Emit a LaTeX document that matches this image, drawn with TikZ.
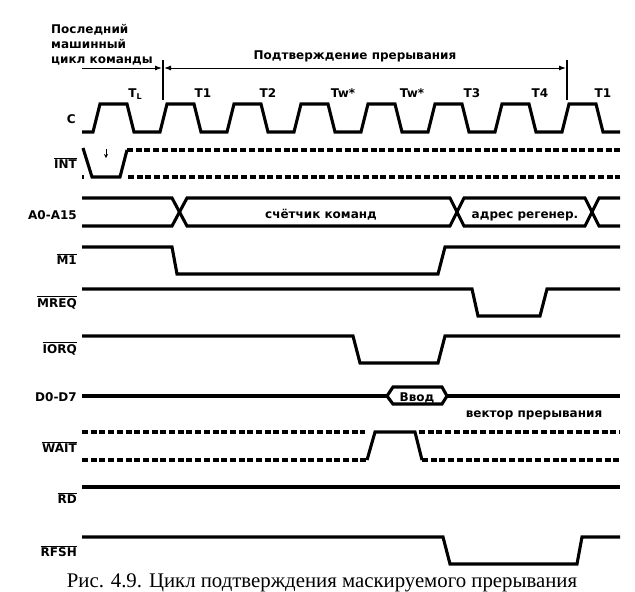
\documentclass[tikz,border=0pt]{standalone}
\usepackage{fontspec}
\usetikzlibrary{arrows.meta}
\newfontfamily\lblfont{DejaVu Sans}
\newfontfamily\capfont{Liberation Serif}
\newcommand\ovl[1]{\ensuremath{\overline{\hbox{#1}}}}
\begin{document}
\begin{tikzpicture}[x=1pt,y=-1pt,
  sig/.style={line width=3.1pt},
  dsig/.style={line width=3.1pt,dash pattern=on 6pt off 2.7pt},
  lbl/.style={font=\lblfont\bfseries\fontsize{12}{14}\selectfont,inner sep=0pt},
  slbl/.style={lbl,anchor=base east},
  tlbl/.style={lbl,anchor=base},
  marker/.style={line width=1.8pt},
  span/.style={line width=1pt}]
\useasboundingbox (0,0) rectangle (635,592);
\fill[white] (0,0) rectangle (635,592);

% header texts
\node[lbl,anchor=base west] (h1) at (51,33) {Последний};
\node[lbl,anchor=base west] (h2) at (51,48) {машинный};
\node[lbl,anchor=base west] (h3) at (51,63) {цикл команды};
\node[tlbl] (ack) at (355,59) {Подтверждение прерывания};

% markers and spans
\coordinate (sL) at (82,68);
\coordinate (mA) at (163,68);
\coordinate (mB) at (567,68);
\draw[marker] (163,60) -- (163,100);
\draw[marker] (567,60) -- (567,100);
\draw[span,-{Latex[length=7pt,width=5pt]}] (sL) -- ([xshift=-1pt]mA);
\draw[span,{Latex[length=7pt,width=5pt]}-{Latex[length=7pt,width=5pt]}] ([xshift=1pt]mA) -- ([xshift=-1pt]mB);

% T labels
\node[tlbl] (tl) at (135,97) {T\raisebox{-2pt}{\fontsize{8}{9}\selectfont L}};
\node[tlbl] (t1) at (203,97) {T1};
\node[tlbl] (t2) at (268,97) {T2};
\node[tlbl] (tw1) at (343,97) {Tw*};
\node[tlbl] (tw2) at (412,97) {Tw*};
\node[tlbl] (t3) at (472,97) {T3};
\node[tlbl] (t4) at (540,97) {T4};
\node[tlbl] (t1b) at (603,97) {T1};

% signal labels
\node[slbl] (lC) at (76,123) {C};
\node[slbl] (lINT) at (77,168) {\ovl{INT}};
\node[slbl] (lA) at (77,219) {A0-A15};
\node[slbl] (lM1) at (77,264) {\ovl{M1}};
\node[slbl] (lMREQ) at (77,307) {\ovl{MREQ}};
\node[slbl] (lIORQ) at (77,353) {\ovl{IORQ}};
\node[slbl] (lD) at (77,401) {D0-D7};
\node[slbl] (lWAIT) at (77,452) {\ovl{WAIT}};
\node[slbl] (lRD) at (77,503) {\ovl{RD}};
\node[slbl] (lRFSH) at (77,556) {\ovl{RFSH}};

% C clock
\draw[sig] (82,132) foreach \k in {0,...,7} {
  -- ({93+67*\k},132) -- ({100+67*\k},104) -- ({127+67*\k},104) -- ({134+67*\k},132) }
  -- (620,132);

% INT
\draw[sig] (83,148) -- (92,177) -- (120,177) -- (127,150);
\draw[dsig] (127,150) -- (620,150);
\draw[dsig] (128,177) -- (620,177);
\draw[sig] (82,177) -- (84,177);
\draw[line width=0.9pt,-{Stealth[length=4pt,width=4pt]}] (106,149) -- (106,158);

% A0-A15
\draw[sig] (82,198) -- (172,198) -- (187,226) -- (450,226) -- (464,198) -- (585,198) -- (599,226) -- (620,226);
\draw[sig] (82,226) -- (172,226) -- (187,198) -- (450,198) -- (464,226) -- (585,226) -- (599,198) -- (620,198);
\node[tlbl] (pc) at (321,218) {счётчик команд};
\node[tlbl] (ra) at (525,218) {адрес регенер.};

% M1
\draw[sig] (82,247) -- (172,247) -- (177,274) -- (438,274) -- (445,247) -- (620,247);
% MREQ
\draw[sig] (82,289) -- (472,289) -- (478,316) -- (540,316) -- (547,289) -- (620,289);
% IORQ
\draw[sig] (82,336) -- (353,336) -- (360,363) -- (438,363) -- (445,336) -- (620,336);

% D0-D7
\draw[sig] (82,396) -- (387,396);
\draw[sig,line join=miter] (387,396) -- (393,387) -- (442,387) -- (447,396) -- (442,404) -- (393,404) -- cycle;
\draw[sig] (447,396) -- (620,396);
\node[tlbl] (in) at (417,401) {Ввод};
\node[tlbl] (vec) at (534,417) {вектор прерывания};

% WAIT
\draw[dsig] (82,432) -- (365,432);
\draw[dsig] (82,460) -- (367,460);
\draw[sig] (367,460) -- (375,432) -- (415,432) -- (422,460);
\draw[dsig] (419,432) -- (620,432);
\draw[dsig] (422,460) -- (620,460);

% RD
\draw[sig] (82,487) -- (620,487);
% RFSH
\draw[sig] (82,537) -- (443,537) -- (450,564) -- (577,564) -- (582,537) -- (620,537);

% caption
\node[anchor=base,inner sep=0pt,font=\capfont\fontsize{20.8}{24}\selectfont] (cap) at (322,587)
  {Рис. 4.9. Цикл подтверждения маскируемого прерывания};
\end{tikzpicture}
\end{document}
